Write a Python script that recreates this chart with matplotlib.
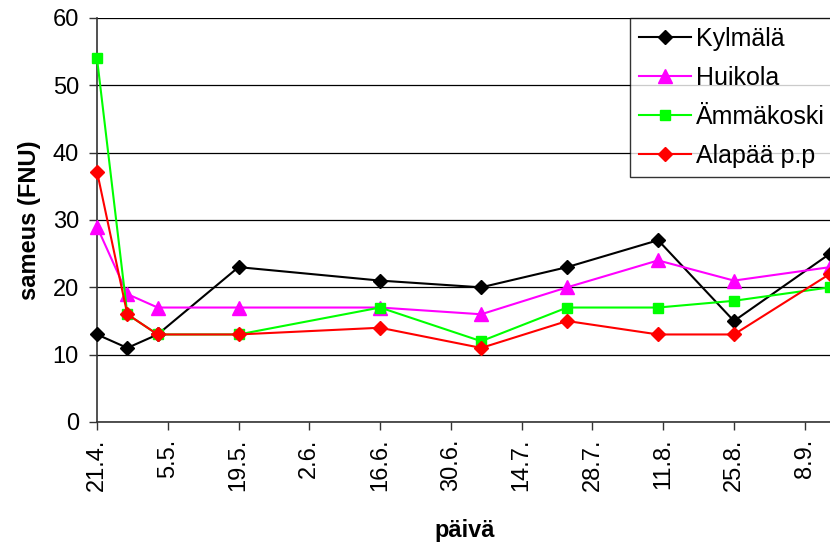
import pandas as pd
import matplotlib
matplotlib.use('Agg')
import matplotlib.pyplot as plt

plt.rcParams['font.family'] = ['Liberation Sans', 'DejaVu Sans']

# Sampling dates and turbidity values (FNU)
dates = ['2008-04-21', '2008-04-27', '2008-05-03', '2008-05-19', '2008-06-16',
         '2008-07-06', '2008-07-23', '2008-08-10', '2008-08-25', '2008-09-13']
kylmala = [13, 11, 13, 23, 21, 20, 23, 27, 15, 25]
huikola = [29, 19, 17, 17, 17, 16, 20, 24, 21, 23]
ammakoski = [54, 16, 13, 13, 17, 12, 17, 17, 18, 20]
alapaa = [37.2, 16, 13, 13, 14, 11, 15, 13, 13, 22]

tick_labels = ['21.4.', '5.5.', '19.5.', '2.6.', '16.6.', '30.6.',
               '14.7.', '28.7.', '11.8.', '25.8.', '8.9.']

x = pd.to_datetime(dates)
tick_dates = pd.date_range(x[0], periods=len(tick_labels), freq='14D')

fig = plt.figure(figsize=(8.3, 5.47), dpi=100)
ax = fig.add_axes([97 / 830, 1 - 422 / 547, 1 - 97 / 830, (422 - 18) / 547])

series = [
    ('Kylmälä', kylmala, 'black', 'D', 7.5),
    ('Huikola', huikola, '#ff00ff', '^', 9.5),
    ('Ämmäkoski', ammakoski, '#00ff00', 's', 7.5),
    ('Alapää p.p', alapaa, '#ff0000', 'D', 7.5),
]
for name, vals, col, mk, ms in series:
    ax.plot(x, vals, color=col, marker=mk, markersize=ms, linewidth=1.5,
            label=name, clip_on=False, zorder=3)

ax.set_xlim(x[0], x[-1])
ax.set_ylim(0, 60)
ax.set_yticks(range(0, 61, 10))
ax.yaxis.grid(True, color='black', linewidth=0.9)
ax.set_axisbelow(True)

ax.set_xticks(tick_dates)
ax.set_xticklabels(tick_labels, rotation=90)
ax.tick_params(axis='both', labelsize=17, direction='out', length=6,
               width=1, color='#333333')
ax.tick_params(axis='x', pad=6)
ax.tick_params(axis='y', pad=7)

for side in ['top', 'right']:
    ax.spines[side].set_visible(False)
for side in ['left', 'bottom']:
    ax.spines[side].set_color('#333333')
    ax.spines[side].set_linewidth(1.2)

ax.set_ylabel('sameus (FNU)', fontsize=17, fontweight='bold', labelpad=8)
fig.text(465 / 830, 1 - 530 / 547, 'päivä', fontsize=17, fontweight='bold',
         ha='center', va='center')

leg = fig.legend(loc='upper left', bbox_to_anchor=(630 / 830, 1 - 18 / 547),
                 bbox_transform=fig.transFigure, borderaxespad=0, fontsize=18,
                 frameon=True, fancybox=False, edgecolor='black',
                 handlelength=2.1, handletextpad=0.2, labelspacing=0.6,
                 borderpad=0.35)
leg.get_frame().set_linewidth(1.0)
leg.set_zorder(5)

fig.savefig('out.png', dpi=100)
